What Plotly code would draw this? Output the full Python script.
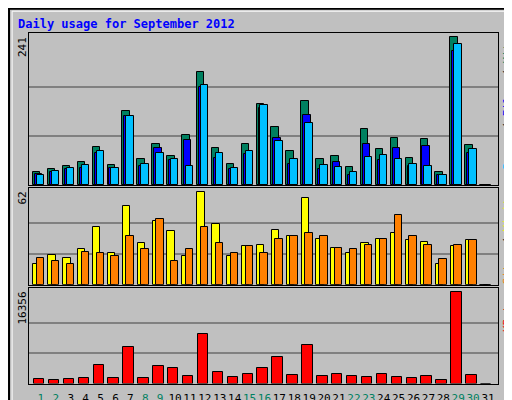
import plotly.graph_objects as go

days = list(range(1, 32))
hits = [22, 26, 31, 37, 62, 32, 120, 42, 67, 47, 81, 184, 60, 34, 67, 132, 94, 55, 137, 42, 47, 29, 91, 58, 76, 44, 75, 22, 241, 65, 0]
files = [18, 21, 26, 28, 53, 27, 112, 31, 60, 40, 73, 160, 44, 26, 50, 125, 76, 35, 114, 26, 37, 17, 67, 40, 60, 31, 63, 17, 218, 53, 0]
pages = [17, 23, 27, 32, 55, 27, 112, 35, 53, 42, 31, 163, 52, 27, 55, 130, 71, 42, 101, 32, 29, 22, 45, 49, 42, 34, 31, 17, 230, 58, 0]
visits = [14, 20, 18, 24, 39, 21, 53, 28, 43, 36, 19, 62, 41, 19, 26, 27, 37, 33, 58, 31, 25, 21, 28, 31, 35, 30, 29, 14, 26, 30, 0]
sites = [18, 16, 14, 22, 21, 19, 33, 24, 44, 16, 24, 39, 28, 21, 26, 21, 31, 33, 35, 33, 25, 24, 27, 31, 47, 33, 27, 17, 27, 30, 0]
kbytes = [773, 595, 773, 952, 3271, 952, 6483, 952, 3093, 2736, 1308, 8803, 2022, 1130, 1665, 2736, 4699, 1487,
          6840, 1308, 1665, 1308, 1130, 1665, 1130, 952, 1308, 595, 16356, 1487, 0]
weekend = [1, 2, 8, 9, 15, 16, 22, 23, 29, 30]

BG = "#C0C0C0"
MONO = "DejaVu Sans Mono"
edge = dict(color="black", width=1)

fig = go.Figure()


def bars(y, color, offset, width, yaxis, xaxis):
    fig.add_trace(go.Bar(x=days, y=y, offset=offset, width=width, marker_color=color,
                         marker_line=edge, xaxis=xaxis, yaxis=yaxis, showlegend=False))


bars(hits, "#008060", -0.53, 0.5, "y", "x")
bars(files, "#0000FF", -0.4, 0.5, "y", "x")
bars(pages, "#00C0FF", -0.27, 0.5, "y", "x")
bars(visits, "#FFFF00", -0.51, 0.5, "y2", "x2")
bars(sites, "#FF8000", -0.27, 0.5, "y2", "x2")
bars(kbytes, "#FF0000", -0.47, 0.7, "y3", "x3")

xr = [0.2, 31.67]
xdom = [21 / 512, 490 / 512]
xcommon = dict(range=xr, domain=xdom, showgrid=False, showline=True, linecolor="black", mirror=True,
               zeroline=False, ticks="", automargin=False)
fig.update_layout(
    width=512, height=400, margin=dict(l=0, r=0, t=0, b=0, autoexpand=False),
    paper_bgcolor=BG, plot_bgcolor=BG, bargap=0,
    xaxis=dict(xcommon, anchor="y", showticklabels=False),
    xaxis2=dict(xcommon, anchor="y2", showticklabels=False),
    xaxis3=dict(xcommon, anchor="y3", tickvals=days, tickangle=0, ticklabelstandoff=4,
                ticktext=[f"<span style='color:{'#008060' if d in weekend else 'black'}'>{d}</span>" for d in days],
                tickfont=dict(family=MONO, size=11)),
)
panels = [("yaxis", [0.5575, 0.9375], 248, 241, "x"),
          ("yaxis2", [0.308, 0.55], 64.9, 62, "x2"),
          ("yaxis3", [0.061, 0.3], 17070, 16356, "x3")]
for name, dom, top, mx, xa in panels:
    fig.layout[name] = dict(domain=dom, range=[0, top], anchor=xa, tickvals=[mx / 3, mx * 2 / 3],
                            showticklabels=False, gridcolor="#808080", gridwidth=1.5, automargin=False,
                            showline=True, linecolor="black", mirror=True, zeroline=False)

fig.add_annotation(text="<b>Daily usage for September 2012</b>", x=8 / 512, y=1 - 16 / 400, xref="paper",
                   yref="paper", xanchor="left", yanchor="middle", showarrow=False,
                   font=dict(family=MONO, size=12, color="#0000FF"))
for txt, ytop in [("241", 25), ("62", 180), ("16356", 280)]:
    fig.add_annotation(text=txt, x=14 / 512, y=1 - (ytop + 2) / 400, xref="paper", yref="paper",
                       textangle=-90, xanchor="center", yanchor="top", showarrow=False,
                       font=dict(family=MONO, size=11, color="black"))
right = [("<span style='color:#00C0FF'>Pages</span> / <span style='color:#0000FF'>Files</span> / "
          "<span style='color:#008060'>Hits</span>", 25),
         ("<span style='color:#FF8000'>Sites</span> / <span style='color:#FFFF00'>Visits</span>", 180),
         ("<span style='color:#FF0000'>KBytes</span>", 280)]
for txt, ytop in right:
    fig.add_annotation(text=txt, x=499 / 512, y=1 - (ytop + 2) / 400, xref="paper", yref="paper",
                       textangle=-90, xanchor="center", yanchor="top", showarrow=False,
                       font=dict(family=MONO, size=11, color="black"))

# bevelled outer frame
fig.add_shape(type="rect", xref="paper", yref="paper", x0=0.002, y0=0.002, x1=0.998, y1=0.998,
              line=dict(color="black", width=2))
fig.add_shape(type="rect", xref="paper", yref="paper", x0=0.008, y0=0.008, x1=0.992, y1=0.992,
              line=dict(color="white", width=1))

fig.write_html("out.html")
